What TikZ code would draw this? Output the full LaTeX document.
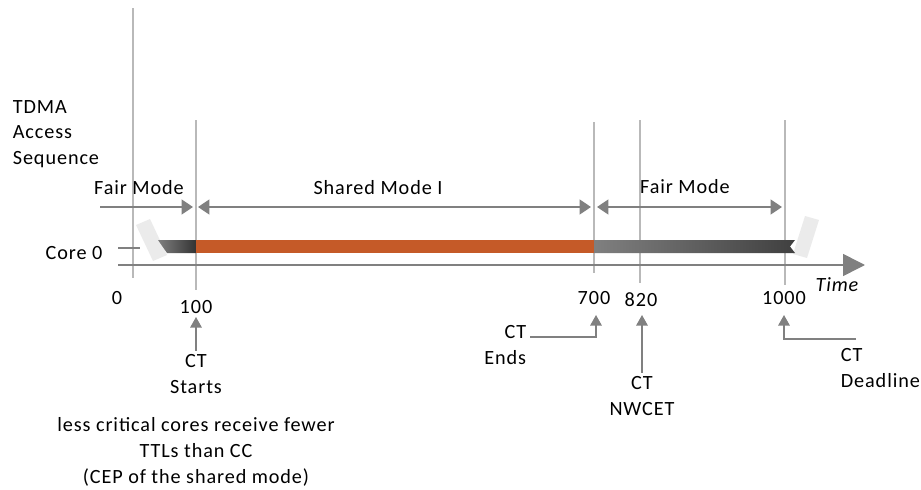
\documentclass[tikz,border=0pt]{standalone}
\usepackage{fontspec}
\setmainfont{Carlito}[LetterSpace=4.5]
\usetikzlibrary{arrows.meta, positioning}

\definecolor{ctorange}{RGB}{197,90,40}
\definecolor{guidegray}{RGB}{185,185,185}
\definecolor{arrowgray}{RGB}{128,128,128}
\definecolor{breakgray}{RGB}{235,235,235}

\begin{document}
\begin{tikzpicture}[
            x=0.02cm, y=-0.02cm,
            font=\fontsize{11.5}{14.7}\selectfont,
            label/.style={align=center, inner sep=2pt},
            guide/.style={draw=guidegray, line width=0.8pt},
            span/.style={draw=arrowgray, line width=0.9pt, -{Triangle[length=6.5pt, width=8.5pt]}},
            spanboth/.style={span, {Triangle[length=6.5pt, width=8.5pt]}-{Triangle[length=6.5pt, width=8.5pt]}},
            axis/.style={draw=arrowgray, line width=0.9pt, -{Triangle[length=12.5pt, width=12.5pt]}},
            pointer/.style={draw=arrowgray, line width=0.9pt, -{Triangle[length=6pt, width=6.5pt]}}
        ]
        \useasboundingbox (0,0) rectangle (921,490);

        % guides
        \draw [guide] (133,8) -- (133,278);
        \draw [guide] (196,120) -- (196,290);
        \draw [guide] (594,122) -- (594,273);
        \draw [guide] (640,120) -- (640,283);
        \draw [guide] (785,120) -- (785,285);

        % texts
        \node (tdma) [label, align=left, anchor=west] at (9,134) {TDMA\\Access\\Sequence};
        \node (core) [label] at (74,253) {Core 0};
        \node (fairA) [label] at (139,188) {Fair Mode};
        \node (shared) [label] at (378,188) {Shared Mode I};
        \node (fairB) [label] at (685,187) {Fair Mode};

        % mode spans
        \coordinate (fa0) at (100,207);
        \coordinate (fa1) at (193,207);
        \coordinate (sh0) at (198,207);
        \coordinate (sh1) at (591,207);
        \coordinate (fb0) at (597,207);
        \coordinate (fb1) at (782,207);
        \draw [span] (fa0) -- (fa1);
        \draw [spanboth] (sh0) -- (sh1);
        \draw [spanboth] (fb0) -- (fb1);

        % break marks
        \fill [breakgray] (136,225) -- (150,219) -- (167,255) -- (153,261) -- cycle;
        \fill [breakgray] (805,216) -- (819,220) -- (807,258) -- (793,254) -- cycle;

        % core 0 bar
        \shade [left color=black!50, right color=black!80] (158,240) -- (196,240) -- (196,253) -- (167,253) -- cycle;
        \fill [ctorange] (196,240) rectangle (594,253);
        \shade [left color=black!50, right color=black!75] (594,240) -- (795,240) -- (790,246.5) -- (795,253) -- (594,253) -- cycle;

        % axis
        \coordinate (tick0) at (118,248);
        \coordinate (tick1) at (140,248);
        \coordinate (ax0) at (118,265);
        \coordinate (ax1) at (865,265);
        \draw [guide, draw=arrowgray] (tick0) -- (tick1);
        \draw [axis] (ax0) -- (ax1);
        \node (time) [label, font=\fontsize{11.5}{14.7}\selectfont\itshape] at (837,285) {Time};

        % tick values
        \node (v0) [label] at (117,298) {0};
        \node (v100) [label] at (196,307) {100};
        \node (v700) [label] at (594,298) {700};
        \node (v820) [label] at (641,300) {820};
        \node (v1000) [label] at (784,298) {1000};

        % events
        \node (ctstart) [label] at (196,374) {CT\\Starts};
        \node (ctend) [label, align=right, anchor=east] at (530,345) {CT\\Ends};
        \node (ctnw) [label] at (642,396) {CT\\NWCET};
        \node (ctdl) [label, align=left, anchor=west] at (837,368) {CT\\Deadline};
        \coordinate (starttip) at (196,317);
        \coordinate (endfoot) at (530,337);
        \coordinate (endtip) at (596,315);
        \coordinate (nwtip) at (642,315);
        \coordinate (dlfoot) at (856,339);
        \coordinate (dltip) at (784,315);
        \draw [pointer] (ctstart.north) -- (starttip);
        \draw [pointer] (endfoot) -| (endtip);
        \draw [pointer] (ctnw.north) -- (nwtip);
        \draw [pointer] (dlfoot) -| (dltip);

        \node (note) [label] at (196,452) {less critical cores receive fewer\\TTLs than CC\\(CEP of the shared mode)};
        \end{tikzpicture}
\end{document}
